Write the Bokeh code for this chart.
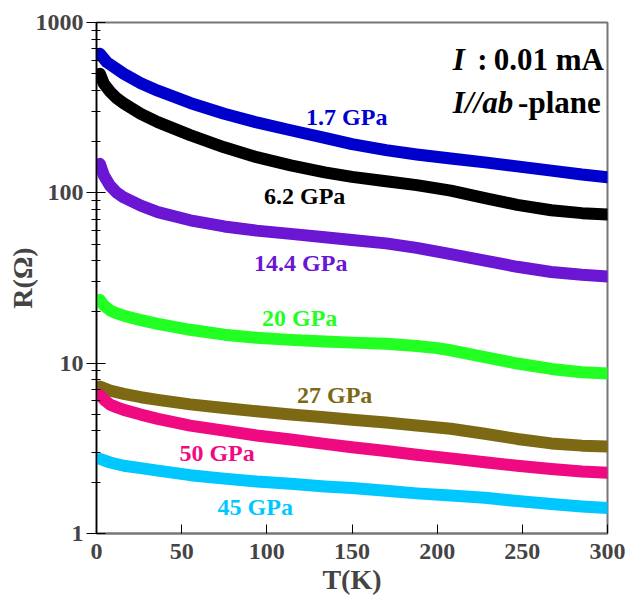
from bokeh.plotting import figure
from bokeh.models import FixedTicker, Label, ColumnDataSource, CustomJSTickFormatter
from bokeh.embed import file_html
from bokeh.resources import INLINE
from bokeh.core.properties import value

# ---- data ----
pressures = ["1.7 GPa", "6.2 GPa", "14.4 GPa", "20 GPa", "27 GPa", "50 GPa", "45 GPa"]

T_17 = [2, 6, 16, 26, 36, 55, 75, 94, 114, 134, 150, 170, 188, 208, 228, 247, 267, 285, 300]
R_17 = [655, 585, 500, 440, 398, 337, 291, 259, 233, 210, 193, 178, 168, 159, 151, 143, 135, 128, 123.5]

T_62 = [2, 4.4, 8, 12, 16, 26, 36, 55, 75, 94, 114, 134, 150, 170, 188, 208, 228, 247, 267, 285, 300]
R_62 = [500, 436, 392, 358, 335, 291, 260, 218, 185, 162, 145, 132, 124, 117, 111, 103, 93, 85, 79, 76, 74.6]

T_144 = [2, 4.4, 8, 12, 16, 26, 36, 55, 75, 94, 114, 134, 150, 170, 188, 208, 228, 247, 267, 285, 300]
R_144 = [148, 126, 110, 100, 94, 84, 77, 69, 63.5, 60, 57.4, 54.9, 52.8, 50.5, 47.5, 43.7, 40, 36.8, 34.3, 33, 32.3]

T_20 = [2, 4.4, 8, 12, 16, 26, 36, 55, 75, 94, 114, 134, 150, 170, 188, 200, 208, 228, 247, 267, 285, 300]
R_20 = [23.5, 21.8, 20.4, 19.6, 19.0, 17.9, 17.0, 15.7, 14.7, 14.1, 13.7, 13.4, 13.2, 13.0, 12.6, 12.25, 11.9, 10.85, 9.95, 9.25, 8.85, 8.7]

T_27 = [2, 8, 16, 26, 36, 55, 75, 94, 114, 134, 150, 170, 188, 208, 228, 247, 267, 285, 300]
R_27 = [7.29, 6.9, 6.6, 6.31, 6.09, 5.73, 5.46, 5.22, 4.99, 4.81, 4.65, 4.48, 4.31, 4.12, 3.85, 3.59, 3.38, 3.28, 3.24]

T_50 = [2, 4.4, 8, 12, 16, 26, 36, 55, 75, 94, 114, 134, 150, 170, 188, 208, 228, 247, 267, 285, 300]
R_50 = [6.5, 6.11, 5.71, 5.5, 5.32, 4.99, 4.71, 4.30, 4.02, 3.76, 3.56, 3.36, 3.21, 3.05, 2.90, 2.76, 2.62, 2.50, 2.39, 2.31, 2.27]

T_45 = [2, 8, 16, 26, 36, 55, 75, 94, 114, 134, 150, 170, 188, 208, 228, 247, 267, 285, 300]
R_45 = [2.74, 2.61, 2.50, 2.42, 2.34, 2.20, 2.10, 2.02, 1.96, 1.89, 1.85, 1.78, 1.72, 1.67, 1.62, 1.55, 1.49, 1.44, 1.41]

x_ticks = [0, 50, 100, 150, 200, 250, 300]
y_ticks = [1, 10, 100, 1000]

# ---- styles / positions ----
colors = ["#0000CD", "#000000", "#6A16D2", "#22FF22", "#7D6914", "#F00A82", "#00C8FF"]
label_T = [146.9, 122.2, 119.9, 119.3, 139.8, 70.8, 93.2]
label_R = [280.6, 96.4, 38.5, 18.3, 6.46, 2.97, 1.43]

series = [(T_17, R_17), (T_62, R_62), (T_144, R_144), (T_20, R_20),
          (T_27, R_27), (T_50, R_50), (T_45, R_45)]

FONT = "Liberation Serif"

p = figure(width=629, height=608, y_axis_type="log",
           x_range=(0, 300), y_range=(1, 1000),
           output_backend="svg", toolbar_location=None,
           min_border_left=96, min_border_right=22,
           min_border_top=22, min_border_bottom=75)

p.xgrid.visible = False
p.ygrid.visible = False
p.background_fill_color = "white"
p.border_fill_color = "white"
p.outline_line_color = "#777777"
p.outline_line_width = 2

for (T, R), c in zip(series, colors):
    p.line(T, R, line_color=c, line_width=12, line_cap="round", line_join="round")

src = ColumnDataSource(dict(x=label_T, y=label_R, t=pressures, c=colors))
p.text(x="x", y="y", text="t", text_color="c", source=src,
       text_font=value(FONT), text_font_style="bold", text_font_size="24px",
       text_align="center", text_baseline="middle")

# axes
xa = p.xaxis[0]
xa.ticker = FixedTicker(ticks=x_ticks, minor_ticks=[])
xa.axis_label = "T(K)"
xa.axis_label_text_font = FONT
xa.axis_label_text_font_style = "bold"
xa.axis_label_text_font_size = "28px"
xa.axis_label_standoff = 2
xa.major_label_text_font = FONT
xa.major_label_text_font_style = "bold"
xa.major_label_text_font_size = "24px"
xa.major_label_standoff = 10
xa.major_tick_in = 9
xa.major_tick_out = 0
xa.major_tick_line_color = "black"
xa.axis_line_color = "#777777"
xa.axis_line_width = 2

minor = [k * 10 ** d for d in range(3) for k in range(2, 10)]
ya = p.yaxis[0]
ya.ticker = FixedTicker(ticks=y_ticks, minor_ticks=minor)
ya.axis_label = "R(Ω)"
ya.axis_label_text_font = FONT
ya.axis_label_text_font_style = "bold"
ya.axis_label_text_font_size = "28px"
ya.axis_label_standoff = -5
ya.major_label_text_font = FONT
ya.major_label_text_font_style = "bold"
ya.major_label_text_font_size = "24px"
ya.major_label_standoff = 3
ya.major_tick_in = 9
ya.major_tick_out = 10
ya.minor_tick_in = 4
ya.minor_tick_out = 5
ya.major_tick_line_color = "black"
ya.minor_tick_line_color = "black"
ya.axis_line_color = "black"
ya.axis_line_width = 1.5
ya.formatter = CustomJSTickFormatter(code="return String(Math.round(tick));")

# annotation (top right)
def lab(x, y, t, style, align):
    p.add_layout(Label(x=x, y=y, text=t, text_font=FONT, text_font_style=style,
                       text_font_size="31px", text_align=align,
                       text_baseline="alphabetic", text_color="black"))

lab(209.2, 607, "I", "bold italic", "left")
lab(223.5, 607, ":", "bold", "left")
lab(297.9, 607, "0.01 mA", "bold", "right")
lab(209.2, 339, "I//ab", "bold italic", "left")
lab(247.5, 339, "-plane", "bold", "left")

open("out.html", "w").write(file_html(p, INLINE))
